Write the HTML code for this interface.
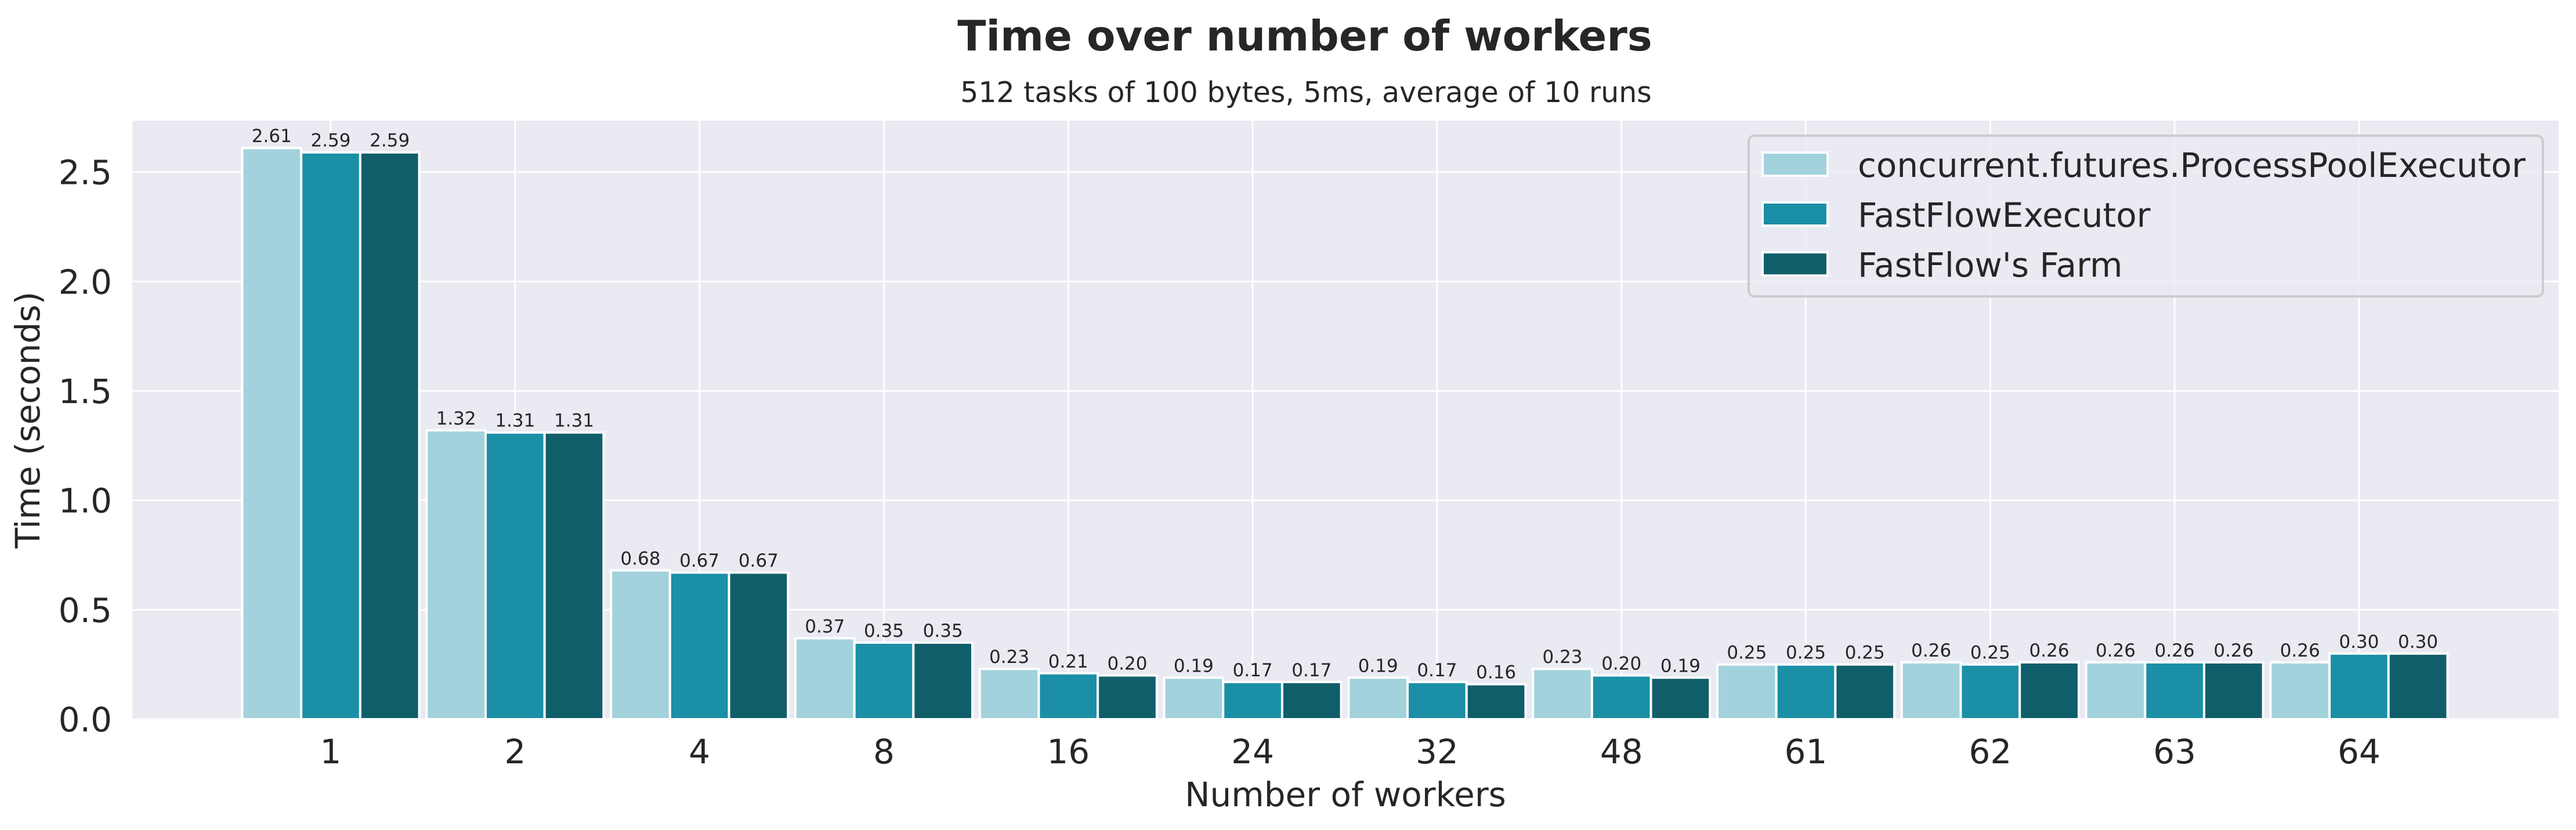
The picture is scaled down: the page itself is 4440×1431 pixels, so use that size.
<!DOCTYPE html>
<html><head><meta charset="utf-8"><style>
html,body{margin:0;padding:0;background:#fff;}
svg{display:block;font-family:"DejaVu Sans","Liberation Sans",sans-serif;}
</style></head><body>
<svg id="chart" width="4440" height="1431" viewBox="0 0 4440 1431" xmlns="http://www.w3.org/2000/svg">
<rect x="0" y="0" width="4440" height="1431" fill="#ffffff"/>
<text x="2249" y="87" text-anchor="middle" font-size="72" font-weight="bold" fill="#262626">Time over number of workers</text>
<text x="2251" y="176" text-anchor="middle" font-size="49" fill="#262626">512 tasks of 100 bytes, 5ms, average of 10 runs</text>
<rect x="228" y="208" width="4182" height="1032" fill="#eaeaf2"/>
<g id="grid"></g>
<g id="bars"></g>
<g id="labels"></g>
<g id="axes"></g>
<text transform="translate(68,724) rotate(-90)" text-anchor="middle" font-size="58" fill="#262626">Time (seconds)</text>
<text x="2319" y="1390" text-anchor="middle" font-size="58" fill="#262626">Number of workers</text>
<g>
<rect x="3014" y="234" width="1369" height="277" rx="10" fill="#eaeaf2" fill-opacity="0.8" stroke="#cccccc" stroke-width="4"/>
<g>
<rect x="3038" y="263" width="112" height="40" fill="#a2d2dc" stroke="#fff" stroke-width="4"/>
<text x="3202" y="305" font-size="58" fill="#262626">concurrent.futures.ProcessPoolExecutor</text></g>
<g>
<rect x="3038" y="349" width="112" height="40" fill="#1a8fa6" stroke="#fff" stroke-width="4"/>
<text x="3202" y="391" font-size="58" fill="#262626">FastFlowExecutor</text></g>
<g>
<rect x="3038" y="435" width="112" height="40" fill="#115e6b" stroke="#fff" stroke-width="4"/>
<text x="3202" y="477" font-size="58" fill="#262626">FastFlow's Farm</text></g>
</g>
</svg>
<script>
const categories = ["1","2","4","8","16","24","32","48","61","62","63","64"];
const processPool = [2.61,1.32,0.68,0.37,0.23,0.19,0.19,0.23,0.25,0.26,0.26,0.26];
const ffExecutor = [2.59,1.31,0.67,0.35,0.21,0.17,0.17,0.20,0.25,0.25,0.26,0.30];
const ffFarm = [2.59,1.31,0.67,0.35,0.20,0.17,0.16,0.19,0.25,0.26,0.26,0.30];
const yTicks = [0.0,0.5,1.0,1.5,2.0,2.5];
const yTickLabels = ["0.0","0.5","1.0","1.5","2.0","2.5"];

const NS = "http://www.w3.org/2000/svg";
const plotL = 228, plotR = 4410, plotT = 208, plotB = 1240;
const yMax = 2.735;
function yScale(v){ return plotB - v/yMax*(plotB-plotT); }
const x0 = 570, step = (4066-570)/11;
function xScale(i){ return x0 + i*step; }
const barW = step*0.32;
function mk(tag, attrs, parent){ const e=document.createElementNS(NS,tag); for(const k in attrs) e.setAttribute(k,attrs[k]); parent.appendChild(e); return e; }
const grid=document.getElementById('grid'), bars=document.getElementById('bars'), labels=document.getElementById('labels'), axes=document.getElementById('axes');
yTicks.forEach((t,i)=>{
  const y=yScale(t);
  const l=mk('line',{x1:plotL,x2:plotR,y1:y,y2:y,stroke:'#ffffff','stroke-width':3},grid);
  
  
  const tx=mk('text',{x:193,y:y+21,'text-anchor':'end','font-size':58,fill:'#262626'},axes);
  
  
  tx.textContent=yTickLabels[i];
});
categories.forEach((c,i)=>{
  const x=xScale(i);
  const l=mk('line',{x1:x,x2:x,y1:plotT,y2:plotB,stroke:'#ffffff','stroke-width':3},grid);
  
  
  const tx=mk('text',{x:x,y:1316,'text-anchor':'middle','font-size':58,fill:'#262626'},axes);
  
  
  tx.textContent=c;
});
const series=[{vals:processPool,color:'#a2d2dc',name:'processpool'},{vals:ffExecutor,color:'#1a8fa6',name:'fastflowexecutor'},{vals:ffFarm,color:'#115e6b',name:'farm'}];
series.forEach((s,si)=>{
  s.vals.forEach((v,i)=>{
    const cx=xScale(i)+(si-1)*barW;
    const y=yScale(v);
    const r=mk('rect',{x:cx-barW/2,y:y,width:barW,height:plotB-y,fill:s.color,stroke:'#ffffff','stroke-width':4},bars);
    
    
    const t=mk('text',{x:cx,y:y-10,'text-anchor':'middle','font-size':31,fill:'#262626'},labels);
    
    
    t.textContent=v.toFixed(2);
  });
});
</script>
</body></html>
